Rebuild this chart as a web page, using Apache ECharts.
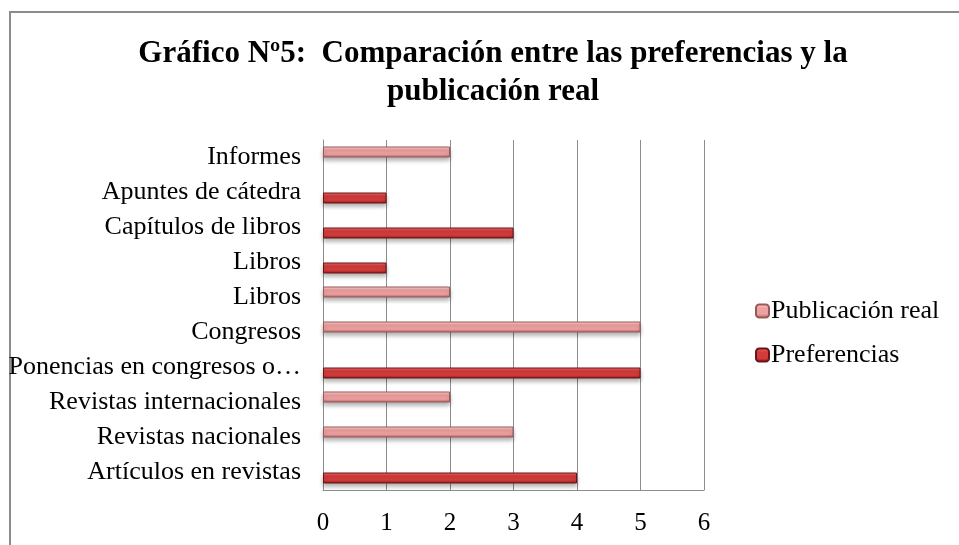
<!DOCTYPE html>
<html>
<head>
<meta charset="utf-8">
<script src="https://cdn.jsdelivr.net/npm/echarts@6/dist/echarts.min.js"></script>
<style>
html, body { margin: 0; padding: 0; background: #fff; }
#main { width: 959px; height: 545px; }
</style>
</head>
<body>
<div id="main"></div>
<script>
var myChart = echarts.init(document.getElementById('main'));

// categories from bottom to top
var categories = [
    'Artículos en revistas',
    'Revistas nacionales',
    'Revistas internacionales',
    'Ponencias en congresos o…',
    'Congresos',
    'Libros',
    'Libros',
    'Capítulos de libros',
    'Apuntes de cátedra',
    'Informes'
];
var publicacionReal = [null, 3, 2, null, 5, 2, null, null, null, 2];
var preferencias = [4, null, null, 5, null, null, 1, 3, 1, null];
var xTicks = [0, 1, 2, 3, 4, 5, 6];

var serif = '"Liberation Serif", "DejaVu Serif", serif';

function barGradient(light, mid, dark) {
    return new echarts.graphic.LinearGradient(0, 0, 0, 1, [
        { offset: 0, color: light },
        { offset: 0.3, color: mid },
        { offset: 0.7, color: mid },
        { offset: 1, color: dark }
    ]);
}

var option = {
    animation: false,
    title: {
        text: 'Gráfico Nº5:  Comparación entre las preferencias y la\npublicación real',
        left: 488,
        textAlign: 'center',
        top: 30,
        textStyle: {
            fontFamily: serif,
            fontWeight: 'bold',
            fontSize: 31,
            lineHeight: 38,
            color: '#000'
        }
    },
    legend: {
        orient: 'vertical',
        left: 750,
        top: 293,
        itemWidth: 13,
        itemHeight: 13,
        itemGap: 18,
        data: ['Publicación real', 'Preferencias'],
        textStyle: {
            fontFamily: serif,
            fontSize: 26,
            color: '#000',
            padding: [0, 0, 0, -3]
        }
    },
    grid: {
        left: 323,
        top: 140,
        width: 381,
        height: 350
    },
    xAxis: {
        type: 'value',
        min: xTicks[0],
        max: xTicks[xTicks.length - 1],
        interval: 1,
        axisLine: { show: true, lineStyle: { color: '#8c8c8c', width: 1 } },
        axisTick: { show: false },
        splitLine: { show: true, lineStyle: { color: '#8c8c8c', width: 1 } },
        axisLabel: {
            margin: 21,
            fontFamily: serif,
            fontSize: 25,
            color: '#000'
        }
    },
    yAxis: {
        type: 'category',
        data: categories,
        axisLine: { show: true, lineStyle: { color: '#8c8c8c', width: 1 } },
        axisTick: { show: false },
        axisLabel: {
            margin: 22,
            fontFamily: serif,
            fontSize: 26,
            color: '#000'
        }
    },
    series: [
        {
            name: 'Publicación real',
            type: 'bar',
            data: publicacionReal,
            barWidth: 11,
            barGap: '0%',
            itemStyle: {
                color: barGradient('#ffd6d6', '#efa0a0', '#a86262'),
                borderColor: '#985858',
                borderWidth: 1,
                shadowColor: 'rgba(0,0,0,0.3)',
                shadowBlur: 4,
                shadowOffsetY: 3
            }
        },
        {
            name: 'Preferencias',
            type: 'bar',
            data: preferencias,
            barWidth: 11,
            barGap: '0%',
            itemStyle: {
                color: barGradient('#f07070', '#d43c3c', '#8a1a1a'),
                borderColor: '#6a1414',
                borderWidth: 1,
                shadowColor: 'rgba(0,0,0,0.3)',
                shadowBlur: 4,
                shadowOffsetY: 3
            }
        }
    ],
    graphic: [
        {
            type: 'polyline',
            shape: { points: [[10, 545], [10, 12], [959, 12]] },
            style: { stroke: '#8c8c8c', lineWidth: 2, fill: null }
        }
    ]
};

myChart.setOption(option);
</script>
</body>
</html>
